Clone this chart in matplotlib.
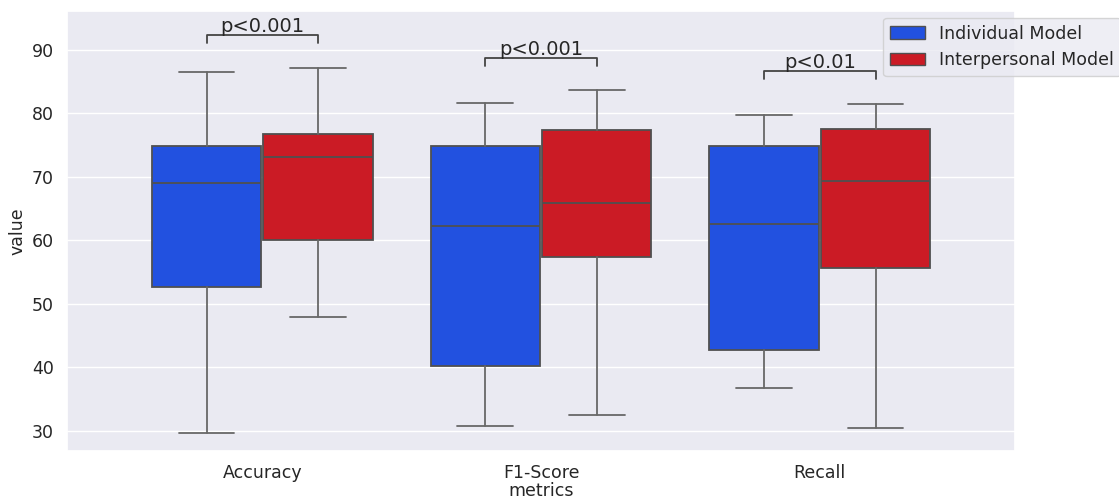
import matplotlib
matplotlib.use("Agg")
import matplotlib.pyplot as plt
import seaborn as sns
from matplotlib.patches import Patch

sns.set_theme(style="darkgrid")
plt.rcParams["font.family"] = ["DejaVu Sans"]

# values
metrics = ["Accuracy", "F1-Score", "Recall"]
models = ["Individual Model", "Interpersonal Model"]
colors = ["#2251E0", "#CB1B25"]

whislo = {"Individual Model": [29.7, 30.8, 36.7], "Interpersonal Model": [48.0, 32.5, 30.4]}
q1 = {"Individual Model": [52.6, 40.2, 42.8], "Interpersonal Model": [60.1, 57.4, 55.7]}
med = {"Individual Model": [69.1, 62.2, 62.5], "Interpersonal Model": [73.2, 65.9, 69.4]}
q3 = {"Individual Model": [74.8, 74.8, 74.8], "Interpersonal Model": [76.8, 77.3, 77.6]}
whishi = {"Individual Model": [86.5, 81.6, 79.8], "Interpersonal Model": [87.2, 83.6, 81.5]}

pvalues = ["p<0.001", "p<0.001", "p<0.01"]

fig = plt.figure(figsize=(11.19, 5), dpi=100)
ax = fig.add_axes([0.060, 0.098, 0.847, 0.880])

line_col = "#505050"
whisk_col = "#686868"
offsets = [-0.2, 0.2]
for m, model in enumerate(models):
    stats = []
    for i in range(len(metrics)):
        stats.append({
            "whislo": whislo[model][i], "q1": q1[model][i], "med": med[model][i],
            "q3": q3[model][i], "whishi": whishi[model][i], "fliers": [],
        })
    pos = [i + offsets[m] for i in range(len(metrics))]
    ax.bxp(stats, positions=pos, widths=0.392, patch_artist=True, showfliers=False,
           manage_ticks=False, capwidths=0.2,
           boxprops=dict(facecolor=colors[m], edgecolor=line_col, linewidth=1.3),
           medianprops=dict(color=line_col, linewidth=1.3),
           whiskerprops=dict(color=whisk_col, linewidth=1.3),
           capprops=dict(color=whisk_col, linewidth=1.3))

# significance brackets
for i in range(len(metrics)):
    top = max(whishi["Individual Model"][i], whishi["Interpersonal Model"][i])
    y, h = top + 3.9, 1.2
    x1, x2 = i - 0.2, i + 0.2
    ax.plot([x1, x1, x2, x2], [y, y + h, y + h, y], color="#444444", linewidth=1.3)
    ax.text(i, y + h - 0.1, pvalues[i], ha="center", va="bottom", fontsize=14, color="#262626")

ax.set_xlim(-0.7, 2.7)
ax.set_ylim(26.85, 96.1)
ax.xaxis.grid(False)
ax.set_xticks(range(len(metrics)))
ax.set_xticklabels(metrics)
ax.tick_params(axis="both", labelsize=12.5)
ax.set_xlabel("metrics", fontsize=12.5, labelpad=0)
ax.set_ylabel("value", fontsize=12.5, labelpad=4)

handles = [Patch(facecolor=colors[m], edgecolor=line_col, label=models[m]) for m in range(len(models))]
ax.legend(handles=handles, loc="upper left", bbox_to_anchor=(0.861, 0.985), fontsize=12.5,
          frameon=True, borderaxespad=0)

fig.savefig("out.png", dpi=100)
